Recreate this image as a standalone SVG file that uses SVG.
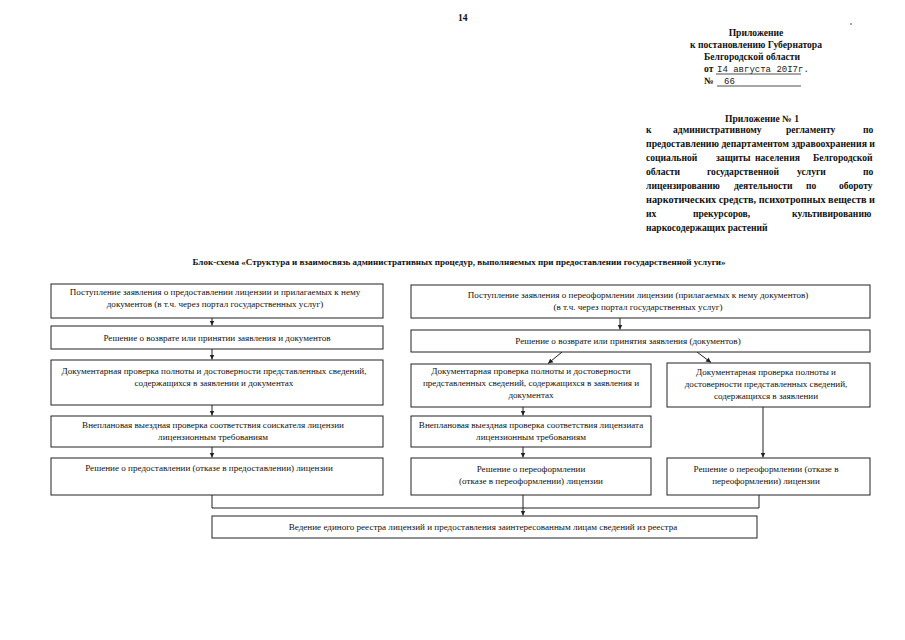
<svg xmlns="http://www.w3.org/2000/svg" width="905" height="640" viewBox="0 0 905 640">
<defs>
<marker id="ah" markerWidth="6" markerHeight="6" refX="5" refY="3" orient="auto" markerUnits="userSpaceOnUse">
<path d="M0,0.5 L5,3 L0,5.5 Z" fill="#222"/>
</marker>
<style>
.hb{font-family:"Liberation Serif",serif;font-weight:bold;font-size:9.6px;fill:#111}
.mono{font-family:"Liberation Mono",monospace;font-size:9px;fill:#222}
.t{font-family:"Liberation Serif",serif;font-size:9.1px;fill:#111;text-anchor:middle}
.box{fill:#fff;stroke:#222;stroke-width:1}
.ln{fill:none;stroke:#222;stroke-width:1}
.mid{text-anchor:middle}
.end{text-anchor:end}
</style>
</defs>
<rect width="905" height="640" fill="#fff"/>

<g id="header">
<text class="hb" x="458" y="21">14</text>
<circle cx="851" cy="24" r="0.8" fill="#333"/>
<text class="hb mid" x="756" y="36">Приложение</text>
<text class="hb mid" x="756" y="48">к постановлению Губернатора</text>
<text class="hb mid" x="752" y="60">Белгородской области</text>
<text class="hb" x="704" y="72">от</text>
<text class="mono" x="717" y="72">I4   августа  20I7г.</text>
<line x1="716" y1="74" x2="801" y2="74" stroke="#222" stroke-width="0.8"/>
<text class="hb" x="704" y="84">№</text>
<text class="mono" x="724" y="84">66</text>
<line x1="717" y1="86" x2="801" y2="86" stroke="#222" stroke-width="0.8"/>
</g>

<g id="appendix">
<text class="hb mid" x="762" y="122">Приложение № 1</text>
<text class="hb" y="133"><tspan x="646">к</tspan><tspan x="673">административному</tspan><tspan x="786">регламенту</tspan><tspan x="863">по</tspan></text>
<text class="hb" x="646" y="147" textLength="229" lengthAdjust="spacingAndGlyphs">предоставлению департаментом здравоохранения и</text>
<text class="hb" y="161"><tspan x="646">социальной</tspan><tspan x="716">защиты</tspan><tspan x="755">населения</tspan><tspan x="813">Белгородской</tspan></text>
<text class="hb" y="175"><tspan x="646">области</tspan><tspan x="707">государственной</tspan><tspan x="797">услуги</tspan><tspan x="863">по</tspan></text>
<text class="hb" y="189"><tspan x="646">лицензированию</tspan><tspan x="734">деятельности</tspan><tspan x="806">по</tspan><tspan x="839">обороту</tspan></text>
<text class="hb" x="646" y="203" textLength="229" lengthAdjust="spacingAndGlyphs">наркотических средств, психотропных веществ и</text>
<text class="hb" y="217"><tspan x="646">их</tspan><tspan x="693">прекурсоров,</tspan><tspan x="792">культивированию</tspan></text>
<text class="hb" x="646" y="231">наркосодержащих растений</text>
</g>

<g id="title">
<text class="hb mid" x="459" y="265" style="font-size:8.6px" textLength="533" lengthAdjust="spacingAndGlyphs">Блок-схема «Структура и взаимосвязь административных процедур, выполняемых при предоставлении государственной услуги»</text>
</g>

<g id="connectors">
<line class="ln" x1="212" y1="318" x2="212" y2="325.5" marker-end="url(#ah)"/>
<line class="ln" x1="212" y1="349" x2="212" y2="359.5" marker-end="url(#ah)"/>
<line class="ln" x1="212" y1="405" x2="212" y2="415.5" marker-end="url(#ah)"/>
<line class="ln" x1="212" y1="447" x2="212" y2="457.5" marker-end="url(#ah)"/>
<line class="ln" x1="620" y1="318" x2="620" y2="329.5" marker-end="url(#ah)"/>
<line class="ln" x1="562" y1="352" x2="548" y2="363.5" marker-end="url(#ah)"/>
<line class="ln" x1="697" y1="352" x2="711" y2="362.5" marker-end="url(#ah)"/>
<line class="ln" x1="523" y1="407" x2="523" y2="415.5" marker-end="url(#ah)"/>
<line class="ln" x1="523" y1="447" x2="523" y2="457.5" marker-end="url(#ah)"/>
<line class="ln" x1="763" y1="407" x2="763" y2="457.5" marker-end="url(#ah)"/>
<polyline class="ln" points="212,495 212,508 759,508 759,495"/>
<line class="ln" x1="523" y1="495" x2="523" y2="508"/>
<line class="ln" x1="523" y1="508" x2="523" y2="515.5" marker-end="url(#ah)"/>
</g>

<g id="b1"><rect class="box" x="51" y="284" width="332" height="34"/>
<text class="t" x="215" y="295">Поступление заявления  о предоставлении лицензии и прилагаемых к нему</text>
<text class="t" x="215" y="307">документов (в т.ч. через портал государственных услуг)</text></g>
<g id="b2"><rect class="box" x="51" y="326" width="332" height="23"/>
<text class="t" x="217" y="341">Решение о возврате или принятии заявления и документов</text></g>
<g id="b3"><rect class="box" x="51" y="360" width="332" height="45"/>
<text class="t" x="214" y="374">Документарная проверка полноты и достоверности представленных сведений,</text>
<text class="t" x="214" y="386">содержащихся в заявлении и документах</text></g>
<g id="b4"><rect class="box" x="51" y="416" width="332" height="31"/>
<text class="t" x="213" y="428">Внеплановая выездная проверка соответствия соискателя лицензии</text>
<text class="t" x="213" y="440">лицензионным требованиям</text></g>
<g id="b5"><rect class="box" x="51" y="458" width="332" height="37"/>
<text class="t" x="209" y="471">Решение  о предоставлении (отказе  в предоставлении) лицензии</text></g>

<g id="r1"><rect class="box" x="411" y="285" width="459" height="33"/>
<text class="t" x="638" y="298">Поступление заявления  о переоформлении лицензии (прилагаемых к нему документов)</text>
<text class="t" x="638" y="310">(в т.ч. через портал государственных услуг)</text></g>
<g id="r2"><rect class="box" x="411" y="330" width="459" height="22"/>
<text class="t" x="628" y="344">Решение о возврате или принятия заявления (документов)</text></g>
<g id="r3a"><rect class="box" x="411" y="364" width="240" height="43"/>
<text class="t" x="531" y="374">Документарная проверка полноты и достоверности</text>
<text class="t" x="531" y="386">представленных сведений, содержащихся в заявления и</text>
<text class="t" x="531" y="398">документах</text></g>
<g id="r3b"><rect class="box" x="667" y="363" width="203" height="44"/>
<text class="t" x="766" y="375">Документарная проверка полноты и</text>
<text class="t" x="766" y="387">достоверности представленных сведений,</text>
<text class="t" x="766" y="399">содержащихся в заявлении</text></g>
<g id="r4a"><rect class="box" x="411" y="416" width="240" height="31"/>
<text class="t" x="531" y="428">Внеплановая выездная проверка соответствия лицензиата</text>
<text class="t" x="531" y="440">лицензионным требованиям</text></g>
<g id="r5a"><rect class="box" x="411" y="458" width="240" height="37"/>
<text class="t" x="531" y="472">Решение о переоформлении</text>
<text class="t" x="531" y="484">(отказе в переоформлении) лицензии</text></g>
<g id="r5b"><rect class="box" x="667" y="458" width="203" height="37"/>
<text class="t" x="766" y="472">Решение о переоформлении  (отказе в</text>
<text class="t" x="766" y="484">переоформлении) лицензии</text></g>

<g id="registry"><rect class="box" x="212" y="516" width="545" height="22"/>
<text class="t" x="483" y="530">Ведение единого реестра лицензий  и предоставления заинтересованным лицам сведений из реестра</text></g>
</svg>
